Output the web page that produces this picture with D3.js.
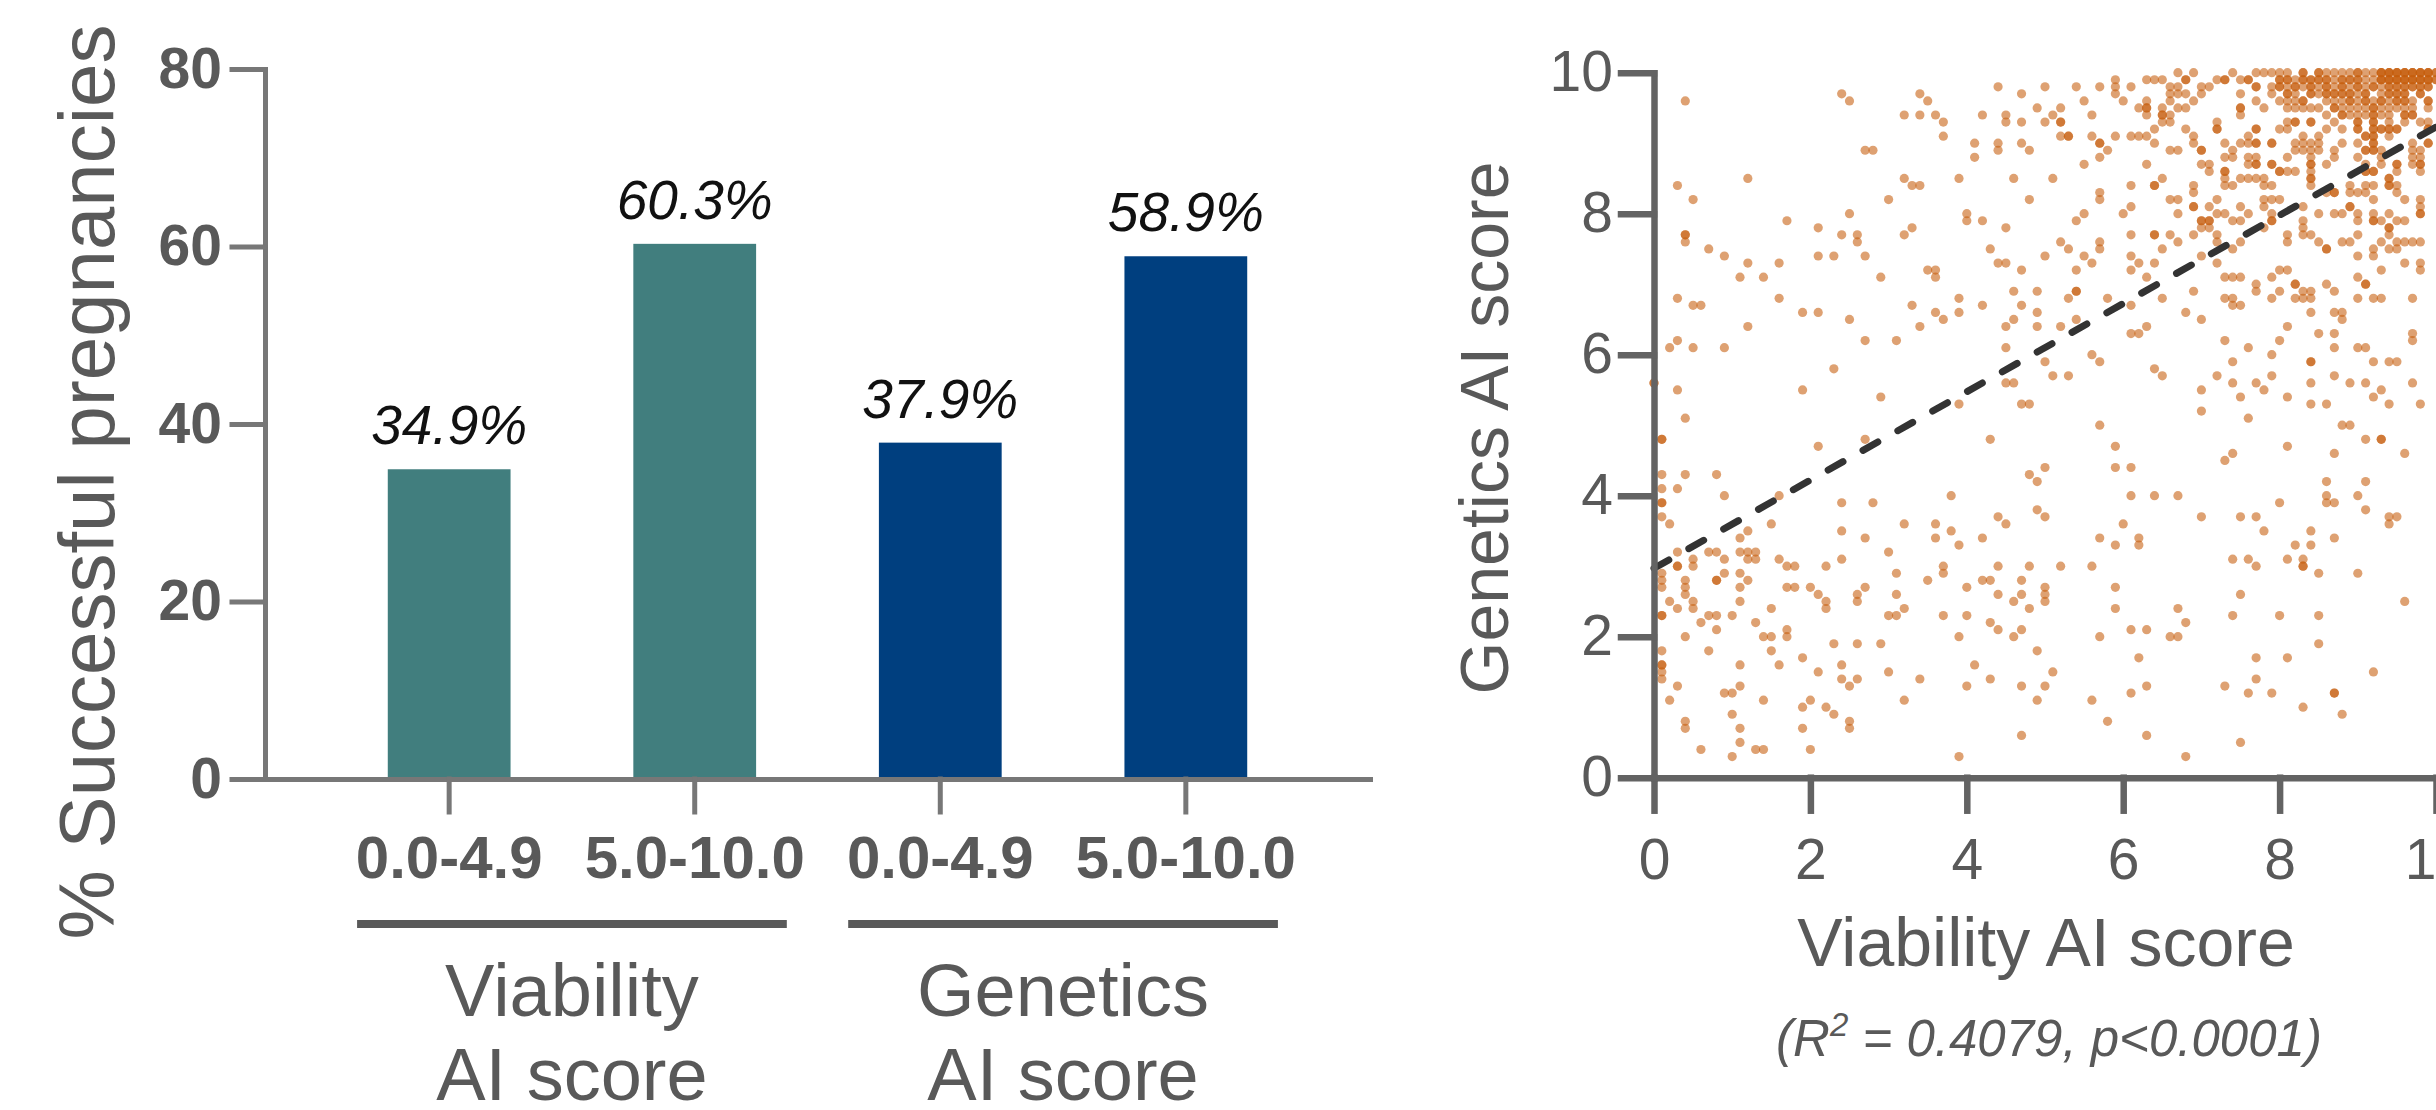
<!DOCTYPE html>
<html>
<head>
<meta charset="utf-8">
<script src="https://cdn.jsdelivr.net/npm/d3@7"></script>
<style>
  html, body { margin: 0; padding: 0; background: #fff; }
  svg { display: block; }
  text { font-family: "Liberation Sans", Arial, Helvetica, sans-serif; }
</style>
</head>
<body>
<svg id="chart" width="2436" height="1110"></svg>
<script>
// ---- bar chart data ----
const barKeys = ["via-low", "via-high", "gen-low", "gen-high"];
const barLabels = ["0.0-4.9", "5.0-10.0", "0.0-4.9", "5.0-10.0"];
const barValues = [34.9, 60.3, 37.9, 58.9];
const barGroup = [0, 0, 1, 1];
const groupColors = ["#417E7E", "#003F7F"];
const groupLabels = [["Viability", "AI score"], ["Genetics", "AI score"]];
const barTicks = [0, 20, 40, 60, 80];

// ---- scatter data: [genetics score, [viability scores on that row]] ----
// repeated values are stacked points (the darker dots)
const scatterRows = [
  [10.0, [6.7, 6.9, 7.4, 7.7, 7.8, 7.9, 8.0, 8.1, 8.3, 8.3, 8.5, 8.5, 8.6, 8.7, 8.8, 8.9, 9.0, 9.0, 9.1, 9.2, 9.3, 9.3, 9.3, 9.4, 9.4, 9.4, 9.5, 9.5, 9.5, 9.6, 9.6, 9.6, 9.7, 9.7, 9.7, 9.8, 9.8, 9.8, 9.9, 9.9, 9.9, 10.0, 10.0]],
  [9.9, [5.9, 6.3, 6.4, 6.5, 6.8, 6.8, 7.2, 7.3, 7.3, 7.5, 7.6, 7.6, 8.0, 8.0, 8.1, 8.1, 8.2, 8.3, 8.3, 8.4, 8.4, 8.5, 8.5, 8.6, 8.6, 8.7, 8.8, 8.8, 8.9, 8.9, 9.0, 9.0, 9.1, 9.2, 9.3, 9.3, 9.3, 9.4, 9.4, 9.4, 9.5, 9.5, 9.5, 9.6, 9.6, 9.6, 9.7, 9.7, 9.7, 9.8, 9.8, 9.8, 9.9, 9.9, 9.9, 10.0, 10.0]],
  [9.8, [4.4, 5.0, 5.4, 5.7, 5.9, 6.1, 6.6, 6.7, 7.0, 7.1, 7.7, 7.7, 7.9, 8.0, 8.0, 8.1, 8.2, 8.2, 8.3, 8.4, 8.4, 8.5, 8.6, 8.6, 8.7, 8.8, 8.8, 8.9, 9.0, 9.0, 9.1, 9.2, 9.2, 9.3, 9.4, 9.4, 9.5, 9.5, 9.6, 9.6, 9.7, 9.7, 9.8, 9.8, 9.9, 9.9]],
  [9.7, [2.4, 3.4, 4.7, 5.9, 6.6, 6.7, 6.8, 7.0, 7.5, 7.9, 8.1, 8.1, 8.2, 8.4, 8.4, 8.5, 8.6, 8.6, 8.7, 8.7, 8.8, 8.8, 8.9, 8.9, 9.0, 9.1, 9.1, 9.3, 9.4, 9.4, 9.5, 9.5, 9.6, 9.6, 9.8, 9.8]],
  [9.6, [0.4, 2.5, 3.5, 5.5, 6.0, 6.3, 6.6, 6.9, 7.7, 8.0, 8.1, 8.2, 8.3, 8.3, 8.6, 8.7, 8.8, 8.9, 8.9, 9.0, 9.1, 9.1, 9.2, 9.3, 9.3, 9.4, 9.5, 9.5, 9.6, 9.6, 9.7, 9.9, 9.9]],
  [9.5, [4.9, 5.2, 6.2, 6.3, 6.3, 6.5, 6.7, 6.8, 7.5, 7.5, 7.8, 8.1, 8.2, 8.3, 8.4, 8.5, 8.7, 8.7, 8.8, 8.9, 9.0, 9.1, 9.2, 9.2, 9.3, 9.4, 9.5, 9.6, 9.7, 9.9]],
  [9.4, [3.2, 3.4, 3.6, 4.2, 4.5, 5.1, 5.6, 6.3, 6.5, 6.5, 6.6, 7.5, 8.6, 8.8, 8.8, 8.9, 9.0, 9.1, 9.2, 9.2, 9.3, 9.4, 9.6, 9.6, 9.7, 9.7]],
  [9.3, [3.7, 4.5, 4.7, 5.0, 5.2, 5.2, 6.5, 6.6, 7.2, 8.1, 8.2, 8.2, 8.4, 8.4, 8.7, 9.0, 9.0, 9.2, 9.2, 9.4, 9.6, 9.8, 9.9]],
  [9.2, [6.4, 6.8, 7.2, 7.2, 7.7, 7.7, 8.0, 8.1, 8.6, 8.8, 9.0, 9.0, 9.2, 9.2, 9.3, 9.3, 9.4, 9.4, 9.5, 9.5, 9.9, 9.9]],
  [9.1, [3.7, 5.2, 5.3, 5.3, 5.6, 5.9, 6.1, 6.2, 6.3, 6.9, 7.6, 8.3, 8.5, 9.1, 9.1, 9.2, 9.2, 9.4]],
  [9.0, [4.1, 4.4, 4.7, 5.7, 5.7, 6.4, 6.9, 7.3, 7.5, 7.6, 7.7, 7.7, 7.9, 7.9, 8.2, 8.3, 8.4, 8.5, 8.8, 9.0, 9.2, 9.2, 9.7, 9.9, 9.9]],
  [8.9, [2.7, 2.8, 4.4, 4.8, 5.8, 6.6, 6.7, 7.0, 7.0, 7.4, 8.2, 8.3, 8.4, 8.5, 8.7, 9.1, 9.1, 9.2, 9.2, 9.3, 9.7, 9.8]],
  [8.8, [4.1, 5.7, 7.3, 7.4, 7.6, 7.7, 8.1, 8.4, 8.7, 9.0, 9.3, 9.7, 9.8]],
  [8.7, [5.5, 6.3, 7.0, 7.1, 7.6, 7.7, 7.7, 7.9, 7.9, 8.4, 8.4, 8.6, 9.1, 9.3, 9.5, 9.5, 9.7, 9.8, 9.8]],
  [8.6, [7.1, 7.3, 7.3, 8.0, 8.0, 8.1, 8.2, 8.4, 9.1, 9.1, 9.2, 9.2, 9.5, 9.8]],
  [8.5, [1.2, 3.2, 3.9, 4.6, 5.1, 6.5, 7.3, 7.5, 7.6, 7.7, 7.8, 8.4, 8.4, 9.4, 9.4]],
  [8.4, [0.3, 3.3, 3.4, 6.1, 6.4, 6.4, 6.9, 7.3, 7.4, 7.8, 7.9, 8.4, 8.9, 9.1, 9.2, 9.4, 9.4, 9.5]],
  [8.3, [5.7, 6.9, 8.6, 8.7, 8.7, 8.9, 9.0, 9.1, 9.5]],
  [8.2, [0.5, 3.0, 4.8, 5.7, 6.6, 6.7, 7.2, 7.8, 7.9, 8.0, 9.2, 9.6, 9.8]],
  [8.1, [6.1, 6.9, 6.9, 7.1, 7.5, 7.8, 8.3, 8.9, 8.9, 9.8]],
  [8.0, [2.5, 4.0, 5.5, 6.0, 6.7, 7.2, 7.3, 7.6, 7.9, 8.5, 8.7, 8.8, 9.0, 9.2, 9.4, 9.8, 9.8]],
  [7.9, [1.7, 4.0, 4.2, 5.4, 7.0, 7.0, 7.1, 7.1, 7.4, 7.5, 7.9, 7.9, 8.3, 9.0, 9.2, 9.2, 9.3, 9.5, 9.6]],
  [7.8, [2.1, 3.3, 4.5, 7.0, 7.1, 7.8, 8.3, 9.4, 9.4]],
  [7.7, [0.4, 0.4, 2.4, 2.6, 3.2, 6.1, 6.4, 6.4, 6.6, 6.9, 7.2, 8.1, 8.3, 8.4, 9.0, 9.4]],
  [7.6, [0.4, 2.6, 5.2, 5.7, 6.7, 7.2, 7.5, 8.1, 8.5, 8.8, 8.9, 9.3, 9.5, 9.6, 9.7, 9.8]],
  [7.5, [0.7, 4.3, 5.3, 5.7, 6.5, 7.4, 8.6, 8.6, 9.2, 9.4, 9.5]],
  [7.4, [0.9, 2.1, 2.3, 2.7, 5.0, 5.5, 6.1, 7.0, 9.0, 9.2]],
  [7.3, [1.2, 1.6, 4.4, 4.5, 5.6, 6.2, 6.4, 7.2, 9.6, 9.8]],
  [7.2, [3.5, 3.6, 4.7, 5.4, 6.1, 8.0, 8.1, 9.3, 9.8]],
  [7.1, [1.1, 1.4, 2.9, 3.6, 6.3, 7.3, 7.4, 7.5, 7.9, 9.0]],
  [7.0, [7.7, 8.2, 8.2, 8.6, 9.1, 9.1]],
  [6.9, [4.6, 4.9, 5.4, 5.4, 6.9, 7.7, 8.0, 8.3, 8.4, 8.7]],
  [6.8, [0.3, 1.6, 3.9, 5.3, 5.8, 6.5, 7.3, 7.4, 7.9, 8.2, 8.3, 8.4, 9.0, 9.2, 9.3, 9.7]],
  [6.7, [0.5, 0.6, 3.3, 4.2, 4.7, 6.1, 7.4, 7.5]],
  [6.6, [1.9, 2.1, 3.6, 3.9, 4.9, 6.8, 8.4, 8.7, 8.8]],
  [6.5, [2.5, 3.7, 4.6, 5.4, 7.0, 8.8]],
  [6.4, [1.2, 3.4, 4.5, 4.9, 5.2, 6.3, 8.1]],
  [6.3, [6.1, 6.2, 8.5, 8.7, 9.7]],
  [6.2, [0.3, 2.7, 3.1, 7.3, 8.0, 9.7]],
  [6.1, [0.2, 0.5, 0.9, 4.5, 7.6, 8.7, 9.0, 9.1]],
  [6.0, [5.6, 7.9]],
  [5.9, [5.0, 5.7, 7.4, 8.4, 8.4, 9.2, 9.4, 9.5]],
  [5.8, [2.3, 6.4]],
  [5.7, [5.1, 5.3, 6.5, 7.2, 7.9, 8.7]],
  [5.6, [0.0, 0.0, 4.5, 4.6, 7.4, 7.7, 8.4, 8.9, 9.1, 9.7]],
  [5.5, [0.3, 1.9, 7.0, 7.8, 9.3]],
  [5.4, [2.9, 7.5, 8.1, 9.2]],
  [5.3, [3.9, 4.7, 4.8, 8.4, 8.6, 9.4, 9.8]],
  [5.2, [7.0]],
  [5.1, [0.4, 7.6]],
  [5.0, [5.7, 8.8, 8.9]],
  [4.8, [0.1, 0.1, 2.7, 4.3, 9.1, 9.3, 9.3]],
  [4.7, [2.1, 5.9, 8.1]],
  [4.6, [7.4, 8.7, 9.6]],
  [4.5, [7.3]],
  [4.4, [5.0, 5.9, 6.1]],
  [4.3, [0.1, 0.4, 0.8, 4.8]],
  [4.2, [4.9, 8.6, 9.1]],
  [4.1, [0.1, 0.3]],
  [4.0, [0.9, 1.6, 3.8, 6.1, 6.4, 6.7, 8.6, 9.0]],
  [3.9, [0.1, 0.1, 2.4, 2.8, 8.0, 8.6, 8.7]],
  [3.8, [4.9, 9.1]],
  [3.7, [0.1, 4.4, 5.0, 7.0, 7.5, 7.7, 9.4, 9.5]],
  [3.6, [0.2, 1.5, 3.2, 3.6, 4.5, 6.0, 9.4]],
  [3.5, [1.2, 2.4, 3.8, 7.8, 8.4]],
  [3.4, [1.1, 2.7, 3.6, 4.2, 5.7, 6.2, 8.7]],
  [3.3, [3.9, 5.9, 6.2, 8.2, 8.4]],
  [3.2, [0.3, 0.7, 0.8, 1.1, 1.2, 1.3, 3.0]],
  [3.1, [0.5, 0.9, 1.2, 1.3, 1.6, 2.4, 7.4, 7.6, 8.1, 8.3]],
  [3.0, [0.3, 0.3, 0.5, 1.7, 1.8, 2.2, 3.7, 4.4, 4.8, 5.2, 5.6, 7.7, 8.3, 8.3]],
  [2.9, [0.1, 0.9, 1.1, 3.1, 3.7, 8.5, 9.0]],
  [2.8, [0.1, 0.4, 0.8, 0.8, 1.2, 3.5, 4.2, 4.3, 4.7]],
  [2.7, [0.1, 0.4, 1.1, 1.7, 1.8, 2.0, 2.7, 4.0, 5.0, 5.9]],
  [2.6, [0.4, 2.1, 2.6, 3.1, 4.4, 4.7, 5.0, 7.5]],
  [2.5, [0.2, 0.5, 1.1, 2.2, 2.6, 4.6, 5.0, 9.6]],
  [2.4, [0.3, 0.5, 1.5, 2.2, 3.2, 4.8, 5.9, 6.7]],
  [2.3, [0.1, 0.1, 0.7, 0.8, 1.0, 3.0, 3.1, 3.7, 4.0, 7.4, 8.0, 8.5]],
  [2.2, [0.6, 1.3, 4.3, 6.8]],
  [2.1, [0.8, 1.7, 4.4, 4.7, 6.1, 6.3]],
  [2.0, [0.4, 1.4, 1.5, 1.7, 3.9, 4.6, 5.7, 6.6, 6.7]],
  [1.9, [2.3, 2.6, 2.9, 8.5]],
  [1.8, [0.1, 0.7, 1.5, 4.9]],
  [1.7, [1.9, 6.2, 7.7, 8.1]],
  [1.6, [0.1, 0.1, 1.1, 1.6, 2.4, 4.1]],
  [1.5, [0.1, 2.1, 3.0, 5.1, 9.2]],
  [1.4, [0.1, 2.4, 2.6, 3.4, 4.3, 7.7]],
  [1.3, [0.3, 1.1, 2.5, 4.0, 4.7, 5.0, 6.3, 7.3]],
  [1.2, [0.9, 1.0, 6.1, 7.6, 7.9, 8.7, 8.7]],
  [1.1, [0.2, 1.4, 2.0, 3.2, 4.9, 5.6]],
  [1.0, [1.9, 2.2, 8.3]],
  [0.9, [1.0, 2.3, 8.8]],
  [0.8, [0.4, 2.5, 5.8]],
  [0.7, [0.4, 1.1, 1.9, 2.5]],
  [0.6, [4.7, 6.3]],
  [0.5, [1.1, 7.5]],
  [0.4, [0.6, 1.3, 1.4, 2.0]],
  [0.3, [1.0, 3.9, 6.8]]
];
const scatterTicks = [0, 2, 4, 6, 8, 10];
// regression line ends
const fitX = [0, 10];
const fitY = [2.97, 9.23];

const greyText = "#595959";

const svg = d3.select("#chart");

// ================= bar chart =================
const barY = d3.scaleLinear().domain([0, 80]).range([779, 69]);
const barX = d3.scaleBand()
  .domain(barKeys)
  .range([265, 1370])
  .paddingInner(0.5)
  .paddingOuter(0.5);

const barG = svg.append("g");

barG.selectAll("rect.bar")
  .data(barKeys)
  .join("rect")
  .attr("class", "bar")
  .attr("x", d => barX(d))
  .attr("width", barX.bandwidth())
  .attr("y", (d, i) => barY(barValues[i]))
  .attr("height", (d, i) => barY(0) - barY(barValues[i]))
  .attr("fill", (d, i) => groupColors[barGroup[i]]);

// value labels above bars
barG.selectAll("text.val")
  .data(barKeys)
  .join("text")
  .attr("class", "val")
  .attr("x", d => barX(d) + barX.bandwidth() / 2)
  .attr("y", (d, i) => barY(barValues[i]) - 25)
  .attr("text-anchor", "middle")
  .attr("font-size", 55)
  .attr("font-style", "italic")
  .attr("fill", "#111")
  .text((d, i) => barValues[i].toFixed(1) + "%");

// y axis
const barYAxis = barG.append("g")
  .attr("transform", "translate(265,0)")
  .call(d3.axisLeft(barY).tickValues(barTicks).tickSize(33).tickSizeOuter(0).tickPadding(10));

// x axis
const barXAxis = barG.append("g")
  .attr("transform", `translate(0,${barY(0)})`)
  .call(d3.axisBottom(barX).tickSize(33).tickSizeOuter(0).tickFormat((d, i) => barLabels[i]));

[barYAxis, barXAxis].forEach(ax => {
  ax.selectAll("path, line").attr("stroke", "#777").attr("stroke-width", 5).attr("stroke-linecap", "square");
  ax.selectAll("text")
    .attr("fill", greyText)
    .attr("font-weight", "bold")
    .attr("font-family", "'Liberation Sans', Arial, sans-serif");
});
barYAxis.selectAll("text").attr("font-size", 57);
barXAxis.selectAll("text").attr("font-size", 60).attr("y", 99).attr("dy", 0);

// group underline + label
const step = barX.step();
groupLabels.forEach((lines, gi) => {
  const keys = barKeys.filter((k, i) => barGroup[i] === gi);
  const x0 = barX(keys[0]) - step * 0.125;
  const x1 = barX(keys[keys.length - 1]) + barX.bandwidth() + step * 0.125;
  barG.append("line")
    .attr("x1", x0).attr("x2", x1)
    .attr("y1", 924).attr("y2", 924)
    .attr("stroke", greyText)
    .attr("stroke-width", 8);
  const t = barG.append("text")
    .attr("x", (x0 + x1) / 2)
    .attr("y", 1016)
    .attr("text-anchor", "middle")
    .attr("font-size", 74)
    .attr("fill", greyText);
  lines.forEach((ln, li) => {
    t.append("tspan")
      .attr("x", (x0 + x1) / 2)
      .attr("dy", li === 0 ? 0 : 84)
      .text(ln);
  });
});

// y title
barG.append("text")
  .attr("transform", `translate(114,${(30 + 934) / 2}) rotate(-90)`)
  .attr("text-anchor", "middle")
  .attr("font-size", 78)
  .attr("fill", greyText)
  .text("% Successful pregnancies");

// ================= scatter =================
const sx = d3.scaleLinear().domain([0, 10]).range([1654, 2436]);
const sy = d3.scaleLinear().domain([0, 10]).range([777.7, 72.7]);

const scG = svg.append("g");

const points = scatterRows.flatMap(([gy, xs]) => xs.map(vx => ({ x: vx, y: gy })));

scG.append("g")
  .selectAll("circle")
  .data(points)
  .join("circle")
  .attr("cx", d => sx(d.x))
  .attr("cy", d => sy(d.y))
  .attr("r", 4.6)
  .attr("fill", "#C65D0C")
  .attr("fill-opacity", 0.58);

// dashed regression line
scG.append("line")
  .attr("x1", sx(fitX[0])).attr("y1", sy(fitY[0]))
  .attr("x2", sx(fitX[1])).attr("y2", sy(fitY[1]))
  .attr("stroke", "#333")
  .attr("stroke-width", 7)
  .attr("stroke-dasharray", "17 23")
  .attr("stroke-linecap", "round");

const scXAxis = scG.append("g")
  .attr("transform", `translate(0,${sy(0)})`)
  .call(d3.axisBottom(sx).tickValues(scatterTicks).tickSize(33).tickSizeOuter(0));

const scYAxis = scG.append("g")
  .attr("transform", `translate(${sx(0)},0)`)
  .call(d3.axisLeft(sy).tickValues(scatterTicks).tickSize(33).tickSizeOuter(0).tickPadding(8));

[scXAxis, scYAxis].forEach(ax => {
  ax.selectAll("path, line").attr("stroke", "#636363").attr("stroke-width", 6.5).attr("stroke-linecap", "square");
  ax.selectAll("text")
    .attr("fill", greyText)
    .attr("font-size", 57)
    .attr("font-family", "'Liberation Sans', Arial, sans-serif");
});
scXAxis.selectAll("text").attr("y", 101).attr("dy", 0);

scG.append("text")
  .attr("x", 2046)
  .attr("y", 966)
  .attr("text-anchor", "middle")
  .attr("font-size", 68)
  .attr("fill", greyText)
  .text("Viability AI score");

scG.append("text")
  .attr("transform", `translate(1508,428) rotate(-90)`)
  .attr("text-anchor", "middle")
  .attr("font-size", 68)
  .attr("fill", greyText)
  .text("Genetics AI score");

const note = scG.append("text")
  .attr("x", 2049)
  .attr("y", 1056)
  .attr("text-anchor", "middle")
  .attr("font-size", 51)
  .attr("font-style", "italic")
  .attr("fill", greyText);
note.append("tspan").text("(R");
note.append("tspan").attr("font-size", 33).attr("dy", -20).text("2");
note.append("tspan").attr("dy", 20).text(" = 0.4079, p<0.0001)");
</script>
</body>
</html>
